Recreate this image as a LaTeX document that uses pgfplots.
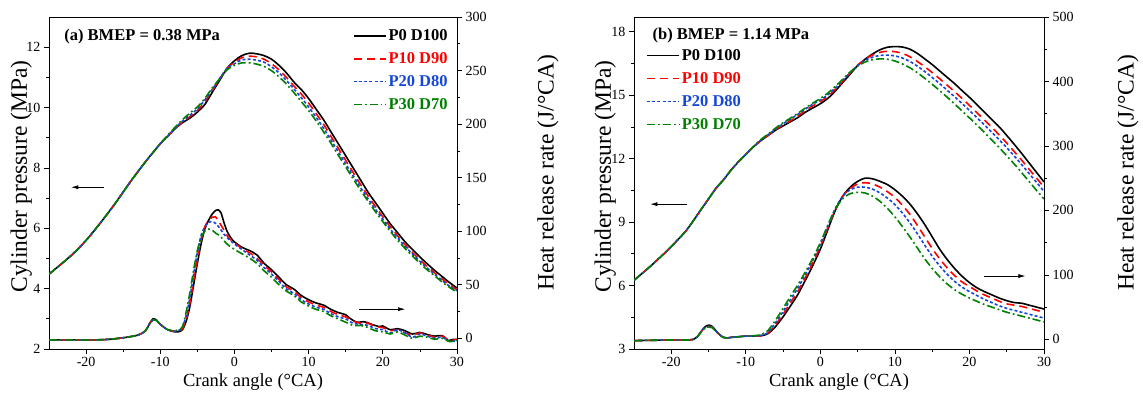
\documentclass[border=0pt]{standalone}
\usepackage{pgfplots}
\pgfplotsset{compat=1.18}
\usetikzlibrary{arrows.meta}
\usepackage{fontspec}
\setmainfont{Liberation Serif}
\definecolor{cred}{RGB}{255,0,0}
\definecolor{cblue}{RGB}{20,70,220}
\definecolor{cgreen}{RGB}{0,128,0}
\newcommand\lf{\bfseries\fontsize{16.5}{16.5}\selectfont}
\pgfplotsset{
 base/.style={scale only axis, width=408pt, height=332pt, xmin=-25, xmax=30,
   tick align=outside, major tick length=5pt, minor tick length=3pt,
   tick label style={font=\fontsize{14}{14}\selectfont},
   xlabel style={font=\fontsize{18.5}{18.5}\selectfont},
   ylabel style={font=\fontsize{23.5}{23.5}\selectfont},
   /pgf/number format/assume math mode=true,
   axis line style={line width=0.7pt},
   every tick/.style={line width=0.7pt, black}},
 s0/.style={black, line width=1.6pt, solid, smooth},
 s1/.style={cred, line width=1.6pt, dash pattern=on 8pt off 5pt, smooth},
 s2/.style={cblue, line width=1.6pt, dash pattern=on 3pt off 2.2pt, smooth},
 s3/.style={cgreen, line width=1.6pt, dash pattern=on 8pt off 3pt on 1.8pt off 3pt, smooth},
 leg/.style={legend cell align=left,
   legend image code/.code={\draw[##1] (0pt,0pt) -- (32pt,0pt);},
   legend style={draw=none, fill=none, row sep=6.5pt, inner sep=1pt}},
}
\begin{document}
\begin{tikzpicture}
% ================= Panel (a) pressure =================
\begin{axis}[base, at={(49pt,45pt)}, anchor=south west,
  ymin=2, ymax=13, ytick={2,4,...,12}, minor y tick num=1,
  xtick={-20,-10,...,30}, minor x tick num=1, tick pos=left,
  xlabel={Crank angle (°CA)}, ylabel={Cylinder pressure (MPa)},
  ylabel style={at={(axis description cs:-0.068,0.52)}, anchor=center, rotate=0},
  leg, legend style={at={(rel axis cs:0.985,0.972)}, anchor=north east}]
\addplot[s0] coordinates {(-25,4.48) (-22,5.1) (-20,5.6) (-18,6.2) (-16,6.85) (-14,7.55) (-12,8.2) (-10,8.8) (-9,9.05) (-8,9.3) (-7,9.5) (-6,9.65) (-5,9.85) (-4,10.1) (-3,10.5) (-2,10.9) (-1,11.3) (0,11.55) (1,11.72) (2,11.8) (3,11.78) (4,11.72) (5,11.6) (6,11.4) (7,11.15) (8,10.85) (9,10.6) (10,10.3) (11,9.95) (12,9.6) (13,9.2) (14,8.8) (15,8.4) (16,8.0) (17,7.6) (18,7.2) (19,6.85) (20,6.5) (21,6.15) (22,5.85) (23,5.55) (24,5.3) (25,5.05) (26,4.82) (27,4.6) (28,4.4) (29,4.2) (30,4.02)};
\addlegendentry{\lf P0 D100}
\addplot[s1] coordinates {(-25,4.48) (-22,5.1) (-20,5.6) (-18,6.2) (-16,6.85) (-14,7.55) (-12,8.2) (-10,8.8) (-9,9.05) (-8,9.3) (-7,9.52) (-6,9.7) (-5,9.9) (-4,10.2) (-3,10.55) (-2,10.95) (-1,11.3) (0,11.5) (1,11.65) (2,11.7) (3,11.68) (4,11.6) (5,11.45) (6,11.25) (7,11.0) (8,10.72) (9,10.45) (10,10.15) (11,9.8) (12,9.45) (13,9.05) (14,8.65) (15,8.25) (16,7.85) (17,7.45) (18,7.08) (19,6.72) (20,6.38) (21,6.05) (22,5.75) (23,5.45) (24,5.2) (25,4.95) (26,4.73) (27,4.52) (28,4.32) (29,4.13) (30,3.96)};
\addlegendentry{\lf\textcolor{cred}{P10 D90}}
\addplot[s2] coordinates {(-25,4.48) (-22,5.1) (-20,5.6) (-18,6.2) (-16,6.85) (-14,7.55) (-12,8.2) (-10,8.8) (-9,9.05) (-8,9.32) (-7,9.55) (-6,9.75) (-5,9.95) (-4,10.25) (-3,10.6) (-2,10.95) (-1,11.3) (0,11.45) (1,11.58) (2,11.6) (3,11.57) (4,11.5) (5,11.35) (6,11.15) (7,10.9) (8,10.62) (9,10.33) (10,10.02) (11,9.68) (12,9.32) (13,8.93) (14,8.53) (15,8.13) (16,7.74) (17,7.35) (18,6.98) (19,6.63) (20,6.3) (21,5.97) (22,5.68) (23,5.4) (24,5.15) (25,4.9) (26,4.68) (27,4.47) (28,4.27) (29,4.08) (30,3.93)};
\addlegendentry{\lf\textcolor{cblue}{P20 D80}}
\addplot[s3] coordinates {(-25,4.48) (-22,5.1) (-20,5.6) (-18,6.2) (-16,6.85) (-14,7.55) (-12,8.2) (-10,8.8) (-9,9.08) (-8,9.35) (-7,9.6) (-6,9.82) (-5,10.02) (-4,10.3) (-3,10.65) (-2,10.95) (-1,11.25) (0,11.4) (1,11.48) (2,11.48) (3,11.44) (4,11.36) (5,11.22) (6,11.02) (7,10.78) (8,10.5) (9,10.2) (10,9.9) (11,9.56) (12,9.2) (13,8.82) (14,8.42) (15,8.03) (16,7.64) (17,7.26) (18,6.9) (19,6.55) (20,6.22) (21,5.9) (22,5.6) (23,5.33) (24,5.08) (25,4.84) (26,4.62) (27,4.42) (28,4.22) (29,4.04) (30,3.88)};
\addlegendentry{\lf\textcolor{cgreen}{P30 D70}}
\node[anchor=west, font=\bfseries\fontsize{16.5}{18}\selectfont] at (rel axis cs:0.029,0.94) {(a) BMEP = 0.38 MPa};
\draw[line width=0.6pt, -{Latex[length=7pt,width=4pt]}] (axis cs:-17.6,7.36) -- (axis cs:-22,7.36);
\draw[line width=0.6pt, -{Latex[length=7pt,width=4pt]}] (axis cs:16.8,3.32) -- (axis cs:23,3.32);
\end{axis}
% ================= Panel (a) HRR =================
\begin{axis}[base, at={(49pt,45pt)}, anchor=south west,
  axis x line=none, axis y line*=right,
  ymin=-10, ymax=300, ytick={0,50,...,300}, minor y tick num=1,
  ylabel={Heat release rate (J/°CA)},
  ylabel style={at={(axis description cs:1.223,0.53)}, anchor=center, rotate=0}]
\addplot[s0] coordinates {(-25,-1.5) (-22,-1.5) (-19,-1.5) (-17,-1) (-15,0.5) (-13,3) (-12,7) (-11.5,13) (-11,18) (-10.5,17) (-10,13) (-9,8) (-8,6) (-7.3,6.5) (-7,8) (-6.5,16) (-6,30) (-5.5,50) (-5,70) (-4.5,88) (-4,102) (-3.5,110) (-3,116) (-2.5,119.5) (-2.2,120) (-1.8,117) (-1.5,110) (-1,100) (-0.5,94) (0,90) (1,85) (2,82) (3,78) (4,70) (5,64) (6,57) (7,50) (8,46) (9,40) (10,36) (11,33) (12,31) (13,27) (14,24) (15,22) (15.5,19) (16.5,15) (17.5,15.5) (18.5,13) (19.5,11) (20,11.5) (21,8) (22,9) (23,7) (24,4) (25,5.5) (26,3.5) (27,2) (28,2.5) (28.8,-2) (29.5,-1) (30,-1)};
\addplot[s1] coordinates {(-25,-1.5) (-22,-1.5) (-19,-1.5) (-17,-1) (-15,0.5) (-13,3) (-12,7) (-11.5,13) (-11,17) (-10.5,16.5) (-10,13) (-9,8) (-8,6.5) (-7.3,7) (-7,9) (-6.5,18) (-6,33) (-5.5,54) (-5,74) (-4.5,92) (-4,104) (-3.5,110) (-3,113) (-2.6,113.5) (-2.2,110) (-1.5,102) (-1,96) (-0.5,92) (0,89) (1,84) (2,80) (3,75) (4,68) (5,62) (6,55) (7,48) (8,44) (9,38) (10,34) (11,31) (12,29) (13,25) (14,22) (15,20) (16,16) (17,14) (18,14) (19,11) (20,10) (21,7) (22,8) (23,5) (24,3) (25,5) (26,3) (27,1) (28,2) (29,-2) (30,-1)};
\addplot[s2] coordinates {(-25,-1.5) (-22,-1.5) (-19,-1.5) (-17,-1) (-15,0.5) (-13,3) (-12,7) (-11.5,13) (-11,17) (-10.5,16.5) (-10,13) (-9,8) (-8,6.5) (-7.5,7.5) (-7,10) (-6.5,22) (-6,38) (-5.5,60) (-5,80) (-4.5,96) (-4,104) (-3.5,108) (-3,109) (-2.5,107) (-2,103) (-1.5,98) (-1,94) (-0.5,91) (0,88) (1,83) (2,78) (3,73) (4,66) (5,60) (6,53) (7,46) (8,42) (9,36) (10,32) (11,29) (12,27) (13,23) (14,20) (15,18) (16,14) (17,13) (18,12) (19,9) (20,8) (21,5) (22,8) (23,5) (24,1) (25,4) (26,2) (27,0) (28,1) (29,-3) (30,-2)};
\addplot[s3] coordinates {(-25,-1.5) (-22,-1.5) (-19,-1.5) (-17,-1) (-15,0.5) (-13,3) (-12,7) (-11.5,13) (-11,17) (-10.5,16.5) (-10,13) (-9,8) (-8,7) (-7.5,8) (-7,11) (-6.5,25) (-6,43) (-5.5,64) (-5,82) (-4.5,94) (-4,100) (-3.5,102) (-3,101) (-2.5,98) (-2,96) (-1,88) (0,83) (1,79) (2,75) (3,70) (4,63) (5,57) (6,50) (7,44) (8,40) (9,34) (10,30) (11,27) (12,25) (13,21) (14,18) (15,15) (16,12) (17,12) (18,10) (19,7) (20,6) (21,4) (22,6) (23,3) (24,0) (25,2) (26,1) (27,-1) (28,0) (29,-3) (30,-2)};
\end{axis}
% ================= Panel (b) pressure =================
\begin{axis}[base, width=410pt, at={(634pt,45pt)}, anchor=south west,
  ymin=3, ymax=18.7, ytick={3,6,...,18}, minor y tick num=1,
  xtick={-20,-10,...,30}, minor x tick num=1, tick pos=left,
  xlabel={Crank angle (°CA)}, ylabel={Cylinder pressure (MPa)},
  ylabel style={at={(axis description cs:-0.07,0.52)}, anchor=center, rotate=0},
  leg, legend style={at={(rel axis cs:0.027,0.912)}, anchor=north west}]
\addplot[s0] coordinates {(-25,6.25) (-23,6.85) (-21,7.5) (-20,7.85) (-18,8.6) (-16,9.6) (-15,10.1) (-14,10.6) (-13,11.0) (-12,11.45) (-11,11.85) (-10,12.2) (-9,12.55) (-8,12.85) (-7,13.1) (-6,13.35) (-5,13.55) (-4,13.75) (-3,13.95) (-2,14.2) (-1,14.4) (0,14.6) (1,14.85) (2,15.2) (3,15.6) (4,16.0) (5,16.4) (6,16.7) (7,16.95) (8,17.15) (9,17.27) (10,17.3) (11,17.28) (12,17.18) (13,16.98) (14,16.72) (15,16.45) (16,16.15) (17,15.85) (18,15.55) (19,15.22) (20,14.9) (21,14.55) (22,14.2) (23,13.85) (24,13.5) (25,13.1) (26,12.68) (27,12.25) (28,11.8) (29,11.35) (30,10.9)};
\addlegendentry{\lf P0 D100}
\addplot[s1] coordinates {(-25,6.25) (-23,6.85) (-21,7.5) (-20,7.85) (-18,8.6) (-16,9.6) (-15,10.1) (-14,10.6) (-13,11.0) (-12,11.45) (-11,11.85) (-10,12.2) (-9,12.55) (-8,12.85) (-7,13.1) (-6,13.37) (-5,13.6) (-4,13.8) (-3,14.02) (-2,14.28) (-1,14.5) (0,14.7) (1,14.95) (2,15.28) (3,15.65) (4,16.05) (5,16.42) (6,16.7) (7,16.9) (8,17.03) (9,17.08) (10,17.06) (11,16.98) (12,16.82) (13,16.6) (14,16.35) (15,16.07) (16,15.78) (17,15.48) (18,15.17) (19,14.85) (20,14.52) (21,14.18) (22,13.83) (23,13.48) (24,13.12) (25,12.74) (26,12.34) (27,11.93) (28,11.5) (29,11.08) (30,10.65)};
\addlegendentry{\lf\textcolor{cred}{P10 D90}}
\addplot[s2] coordinates {(-25,6.25) (-23,6.85) (-21,7.5) (-20,7.85) (-18,8.6) (-16,9.6) (-15,10.1) (-14,10.6) (-13,11.0) (-12,11.45) (-11,11.85) (-10,12.2) (-9,12.55) (-8,12.87) (-7,13.13) (-6,13.4) (-5,13.65) (-4,13.88) (-3,14.1) (-2,14.35) (-1,14.58) (0,14.78) (1,15.02) (2,15.35) (3,15.7) (4,16.08) (5,16.4) (6,16.65) (7,16.8) (8,16.88) (9,16.9) (10,16.86) (11,16.76) (12,16.6) (13,16.38) (14,16.12) (15,15.84) (16,15.55) (17,15.24) (18,14.93) (19,14.61) (20,14.28) (21,13.94) (22,13.6) (23,13.25) (24,12.89) (25,12.52) (26,12.13) (27,11.72) (28,11.3) (29,10.88) (30,10.45)};
\addlegendentry{\lf\textcolor{cblue}{P20 D80}}
\addplot[s3] coordinates {(-25,6.25) (-23,6.85) (-21,7.5) (-20,7.85) (-18,8.6) (-16,9.6) (-15,10.1) (-14,10.6) (-13,11.0) (-12,11.45) (-11,11.85) (-10,12.2) (-9,12.57) (-8,12.9) (-7,13.17) (-6,13.45) (-5,13.7) (-4,13.92) (-3,14.15) (-2,14.4) (-1,14.63) (0,14.85) (1,15.1) (2,15.42) (3,15.75) (4,16.1) (5,16.38) (6,16.57) (7,16.68) (8,16.72) (9,16.7) (10,16.62) (11,16.48) (12,16.3) (13,16.07) (14,15.8) (15,15.52) (16,15.22) (17,14.91) (18,14.59) (19,14.26) (20,13.93) (21,13.59) (22,13.24) (23,12.88) (24,12.52) (25,12.14) (26,11.75) (27,11.34) (28,10.92) (29,10.5) (30,10.1)};
\addlegendentry{\lf\textcolor{cgreen}{P30 D70}}
\node[anchor=west, font=\bfseries\fontsize{16.5}{18}\selectfont] at (rel axis cs:0.037,0.943) {(b) BMEP = 1.14 MPa};
\draw[line width=0.6pt, -{Latex[length=7pt,width=4pt]}] (axis cs:-17.9,9.85) -- (axis cs:-22.8,9.85);
\draw[line width=0.6pt, -{Latex[length=7pt,width=4pt]}] (axis cs:21.9,6.45) -- (axis cs:27.5,6.45);
\end{axis}
% ================= Panel (b) HRR =================
\begin{axis}[base, width=410pt, at={(634pt,45pt)}, anchor=south west,
  axis x line=none, axis y line*=right,
  ymin=-15, ymax=500, ytick={0,100,...,500}, minor y tick num=1,
  ylabel={Heat release rate (J/°CA)},
  ylabel style={at={(axis description cs:1.205,0.53)}, anchor=center, rotate=0}]
\addplot[s0] coordinates {(-25,-2) (-20,-1) (-18,-1) (-17,0) (-16.5,4) (-16,12) (-15.5,19) (-15,22) (-14.5,20) (-14,13) (-13.5,7) (-13,3) (-12.5,2) (-12,3) (-11,4) (-10,5) (-9,5) (-8,5.5) (-7.5,6.5) (-7,9) (-6.5,14) (-6,20) (-5,35) (-4,52) (-3,70) (-2,92) (-1,115) (0,140) (1,170) (2,200) (3,222) (4,236) (5,245) (6,250) (7,249) (8,245) (9,240) (10,232) (11,222) (12,210) (13,195) (14,178) (15,159) (16,140) (17,124) (18,110) (19,98) (20,88) (21,80) (22,74) (23,69) (24,64) (25,60) (26,57) (27,56) (28,53) (29,50) (30,47)};
\addplot[s1] coordinates {(-25,-2) (-20,-1) (-18,-1) (-17,0) (-16.5,4) (-16,12) (-15.5,18) (-15,20) (-14.5,19) (-14,13) (-13.5,7) (-13,3) (-12.5,2) (-12,3) (-11,4) (-10,5) (-9,5) (-8,5.5) (-7.5,7) (-7,10) (-6,23) (-5,39) (-4,57) (-3,75) (-2,96) (-1,119) (0,144) (1,173) (2,201) (3,222) (4,234) (5,241) (6,243) (7,241) (8,236) (9,229) (10,220) (11,208) (12,194) (13,177) (14,159) (15,141) (16,125) (17,111) (18,99) (19,89) (20,82) (21,75) (22,69) (23,64) (24,59) (25,55) (26,53) (27,51) (28,48) (29,45) (30,42)};
\addplot[s2] coordinates {(-25,-2) (-20,-1) (-18,-1) (-17,0) (-16.5,4) (-16,12) (-15.5,18) (-15,20) (-14.5,19) (-14,13) (-13.5,7) (-13,3) (-12.5,2) (-12,3) (-11,4) (-10,5) (-9,5) (-8,6) (-7.5,7.5) (-7,11) (-6,26) (-5,43) (-4,62) (-3,80) (-2,101) (-1,123) (0,148) (1,176) (2,203) (3,222) (4,232) (5,236) (6,236) (7,233) (8,227) (9,219) (10,209) (11,196) (12,181) (13,164) (14,146) (15,129) (16,114) (17,101) (18,90) (19,81) (20,74) (21,68) (22,62) (23,57) (24,52) (25,48) (26,45) (27,42) (28,39) (29,36) (30,33)};
\addplot[s3] coordinates {(-25,-2) (-20,-1) (-18,-1) (-17,0) (-16.5,4) (-16,11) (-15.5,17) (-15,19) (-14.5,18) (-14,12) (-13.5,7) (-13,3) (-12.5,2) (-12,3) (-11,4) (-10,5) (-9,5.5) (-8,7) (-7.5,10) (-7,14) (-6,30) (-5,48) (-4,67) (-3,85) (-2,105) (-1,126) (0,150) (1,177) (2,202) (3,218) (4,226) (5,228) (6,227) (7,222) (8,214) (9,203) (10,190) (11,175) (12,159) (13,142) (14,125) (15,110) (16,97) (17,86) (18,77) (19,70) (20,64) (21,59) (22,54) (23,50) (24,46) (25,42) (26,39) (27,36) (28,33) (29,30) (30,27)};
\end{axis}
\pgfresetboundingbox
\path[use as bounding box] (0,0) rectangle (1143pt,394pt);
\end{tikzpicture}
\end{document}
